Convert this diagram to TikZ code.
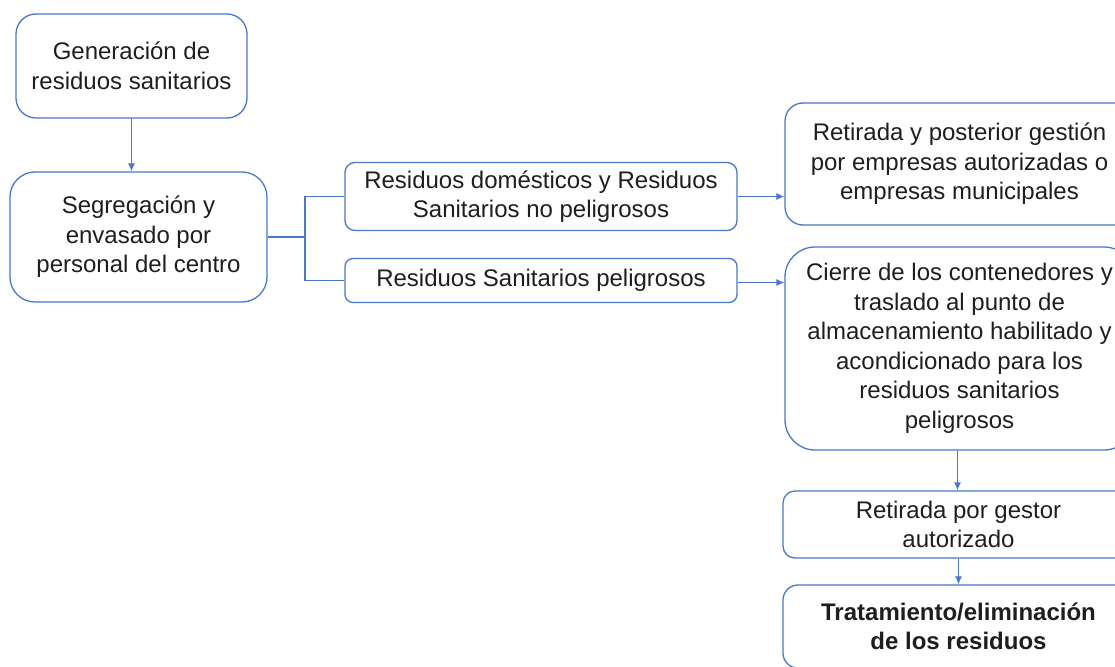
\documentclass[tikz,border=0pt]{standalone}
\usepackage{fontspec}
\setmainfont{Liberation Sans}
\usetikzlibrary{arrows.meta}
\definecolor{boxblue}{HTML}{4A77C6}
\definecolor{txtgray}{HTML}{1E1E1E}

\begin{document}
\begin{tikzpicture}[
    x=1pt,y=-1pt,
    >={Latex[length=8pt,width=7pt]},
    box/.style={draw=boxblue, line width=1.3pt, rounded corners=#1,
                align=center, inner sep=0pt, text=txtgray,
                font=\fontsize{24}{29.5}\selectfont},
    box/.default=15pt,
    link/.style={draw=boxblue, line width=1.2pt}
]

\useasboundingbox (0,0) rectangle (1115,666);
\clip (0,0) rectangle (1115,666);

% left column
\node[box=20pt, minimum width=231pt, minimum height=104pt] (gen) at (131.5,66)
  {Generación de\\residuos sanitarios};
\node[box=25pt, minimum width=257pt, minimum height=130pt] (seg) at (138.5,237)
  {Segregación y\\envasado por\\personal del centro};

% waste types
\node[box=10pt, minimum width=392pt, minimum height=68pt] (dom) at (541,196.5)
  {Residuos domésticos y Residuos\\Sanitarios no peligrosos};
\node[box=8pt, minimum width=392pt, minimum height=44pt] (pel) at (541,280.5)
  {Residuos Sanitarios peligrosos};

% right column
\node[box=18pt, minimum width=349pt, minimum height=122pt] (ret) at (959.5,164)
  {Retirada y posterior gestión\\por empresas autorizadas o\\empresas municipales};
\node[box=30pt, minimum width=349pt, minimum height=203pt] (cierre) at (959.5,348.5)
  {Cierre de los contenedores y\\traslado al punto de\\almacenamiento habilitado y\\acondicionado para los\\residuos sanitarios\\peligrosos};
\node[box=12pt, minimum width=351pt, minimum height=67pt] (gestor) at (958.5,524.5)
  {Retirada por gestor\\autorizado};
\node[box=15pt, minimum width=351pt, minimum height=83pt, font=\fontsize{24}{29.5}\selectfont\bfseries] (trat) at (958.5,626.5)
  {Tratamiento/eliminación\\de los residuos};

% connectors
\coordinate (split) at (305,237);
\draw[link,->] (gen.south) -- (gen.south |- seg.north);
\draw[link] (seg.east) -- (split);
\draw[link] (split) |- (dom.west);
\draw[link] (split) |- (pel.west);
\draw[link,->] (dom.east) -- (dom.east -| ret.west);
\draw[link,->] ([yshift=-2pt]pel.east) -- ([yshift=-2pt]pel.east -| cierre.west);
\draw[link,->] ([xshift=-2pt]cierre.south) -- ([xshift=-2pt]cierre.south |- gestor.north);
\draw[link,->] (gestor.south) -- (trat.north);

\end{tikzpicture}
\end{document}
